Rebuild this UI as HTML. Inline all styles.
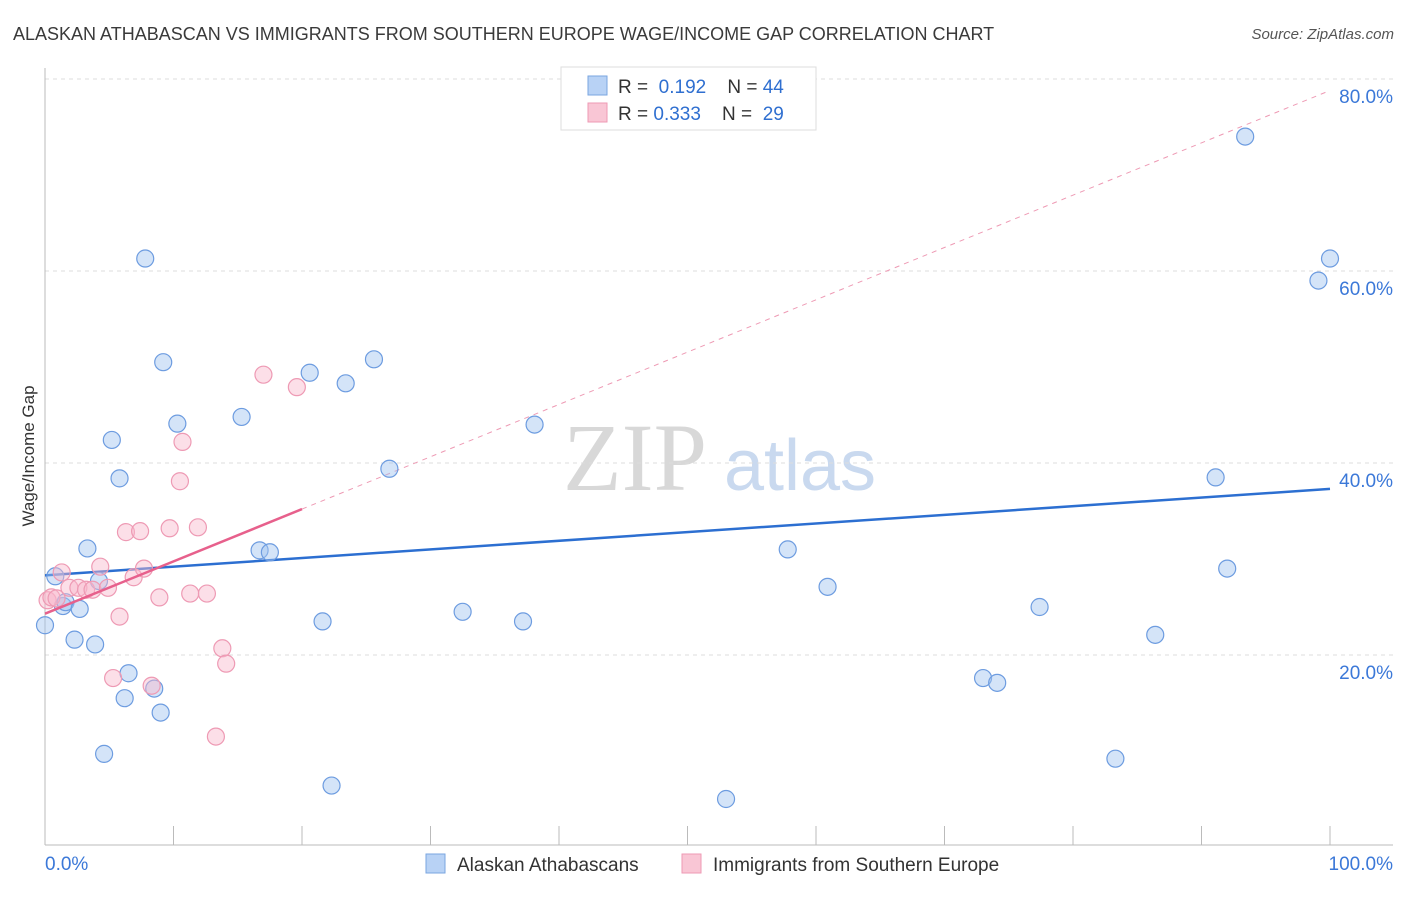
<!DOCTYPE html>
<html><head><meta charset="utf-8"><style>
body{margin:0;background:#fff;font-family:"Liberation Sans",sans-serif;}
svg text{font-family:"Liberation Sans",sans-serif;}
</style></head><body>
<svg id="chart" width="1406" height="892" xmlns="http://www.w3.org/2000/svg">
<text x="13" y="40" font-size="18" fill="#3a3a3a">ALASKAN ATHABASCAN VS IMMIGRANTS FROM SOUTHERN EUROPE WAGE/INCOME GAP CORRELATION CHART</text>
<text x="1394" y="39" font-size="15" fill="#555" font-style="italic" text-anchor="end">Source: ZipAtlas.com</text>
<text transform="translate(34,456) rotate(-90)" font-size="17" fill="#333" text-anchor="middle">Wage/Income Gap</text>
<g id="watermark">
<text x="635" y="490" font-size="96" fill="#d8d8d8" style="font-family:'Liberation Serif',serif" text-anchor="middle">ZIP</text>
<text x="800" y="490" font-size="72" fill="#c9d9ef" text-anchor="middle">atlas</text>
</g>
<g id="grid"></g><g id="axes"></g><g id="lines"></g><g id="points"></g>
<g>
<rect x="561" y="67" width="255" height="63" fill="#fff" stroke="#ddd"/>
<rect x="588" y="76" width="19" height="19" fill="#b8d2f5" stroke="#7aa6e0"/>
<rect x="588" y="103" width="19" height="19" fill="#f9c6d5" stroke="#ee9ab4"/>
<text x="618" y="93" font-size="19" fill="#333">R = <tspan fill="#2f6fd0">&#160;0.192</tspan>&#160;&#160;&#160;&#160;N = <tspan fill="#2f6fd0">44</tspan></text>
<text x="618" y="120" font-size="19" fill="#333">R = <tspan fill="#2f6fd0">0.333</tspan>&#160;&#160;&#160;&#160;N = &#160;<tspan fill="#2f6fd0">29</tspan></text>
</g>
<g>
<rect x="426" y="854" width="19" height="19" fill="#b8d2f5" stroke="#7aa6e0"/>
<text x="457" y="871" font-size="19" fill="#333">Alaskan Athabascans</text>
<rect x="682" y="854" width="19" height="19" fill="#f9c6d5" stroke="#ee9ab4"/>
<text x="713" y="871" font-size="19" fill="#333">Immigrants from Southern Europe</text>
</g>
</svg>
<script>
const blueX=[0,0.8,1.4,1.6,2.3,2.7,3.3,3.9,4.2,4.6,5.2,5.8,6.2,6.5,7.8,8.5,9.0,9.2,10.3,15.3,16.7,17.5,20.6,21.6,22.3,23.4,25.6,26.8,32.5,37.2,38.1,53.0,57.8,60.9,73.0,74.1,77.4,83.3,86.4,91.1,92.0,93.4,99.1,100];
const blueY=[23.1,28.2,25.1,25.5,21.6,24.8,31.1,21.1,27.7,9.7,42.4,38.4,15.5,18.1,61.3,16.5,14.0,50.5,44.1,44.8,30.9,30.7,49.4,23.5,6.4,48.3,50.8,39.4,24.5,23.5,44.0,5.0,31.0,27.1,17.6,17.1,25.0,9.2,22.1,38.5,29.0,74.0,59.0,61.3];
const pinkX=[0.2,0.5,0.9,1.3,1.9,2.6,3.2,3.7,4.3,4.9,5.3,5.8,6.3,6.9,7.4,7.7,8.3,8.9,9.7,10.5,10.7,11.3,11.9,12.6,13.8,14.1,13.3,17.0,19.6];
const pinkY=[25.7,26.0,25.9,28.6,27.0,27.0,26.8,26.8,29.2,27.0,17.6,24.0,32.8,28.1,32.9,29.0,16.8,26.0,33.2,38.1,42.2,26.4,33.3,26.4,20.7,19.1,11.5,49.2,47.9];
const blueTrend=[28.3,37.3];
const pinkTrend=[24.3,0.545];
const yTicks=[20,40,60,80];
const yTickLabels=["20.0%","40.0%","60.0%","80.0%"];
const NS="http://www.w3.org/2000/svg";
const sx=v=>45+v*12.85, sy=v=>847-v*9.6;
function mk(tag,attrs,parent){const e=document.createElementNS(NS,tag);for(const k in attrs)e.setAttribute(k,attrs[k]);document.getElementById(parent).appendChild(e);return e;}
yTicks.forEach((t,i)=>{
 const g=mk('line',{x1:45,x2:1393,y1:sy(t),y2:sy(t),stroke:'#ddd','stroke-dasharray':'4,4'},'grid');
 
 
 const l=mk('text',{x:1393,y:sy(t)+24,'font-size':19,fill:'#3b78d8','text-anchor':'end'},'axes');
 l.textContent=yTickLabels[i];
 
 
});
const ax=mk('line',{x1:45,x2:1393,y1:845,y2:845,stroke:'#bbb'},'axes');


const ay=mk('line',{x1:45,x2:45,y1:68,y2:845,stroke:'#bbb'},'axes');


for(let i=1;i<=10;i++){const t=mk('line',{x1:sx(i*10),x2:sx(i*10),y1:826,y2:845,stroke:'#bbb'},'axes');
 
 }
[["0.0%",45,'start'],["100.0%",1393,'end']].forEach(a=>{const t=mk('text',{x:a[1],y:870,'font-size':19,fill:'#3b78d8','text-anchor':a[2]},'axes');t.textContent=a[0];
 
 });
const pd=mk('line',{x1:sx(20),y1:sy(pinkTrend[0]+20*pinkTrend[1]),x2:sx(100),y2:sy(pinkTrend[0]+100*pinkTrend[1]),stroke:'#ee9ab4','stroke-dasharray':'5,5','stroke-width':1},'lines');


const bl=mk('line',{x1:sx(0),y1:sy(blueTrend[0]),x2:sx(100),y2:sy(blueTrend[1]),stroke:'#2c6fd1','stroke-width':2.5},'lines');


blueX.forEach((x,i)=>{const c=mk('circle',{cx:sx(x),cy:sy(blueY[i]),r:8.5,fill:'rgba(160,196,240,0.45)',stroke:'#6d9ce0','stroke-width':1.2},'points');
 
 });
pinkX.forEach((x,i)=>{const c=mk('circle',{cx:sx(x),cy:sy(pinkY[i]),r:8.5,fill:'rgba(248,184,204,0.45)',stroke:'#ee9ab4','stroke-width':1.2},'points');
 
 });
const pl=mk('line',{x1:sx(0),y1:sy(pinkTrend[0]),x2:sx(20),y2:sy(pinkTrend[0]+20*pinkTrend[1]),stroke:'#e7608c','stroke-width':2.5},'points');


</script>
</body></html>
